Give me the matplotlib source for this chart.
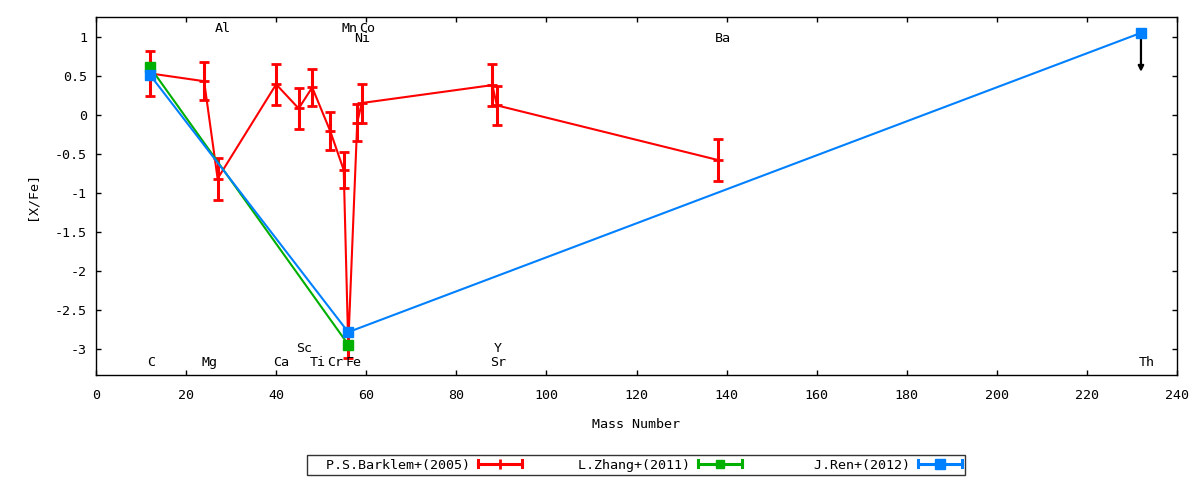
import matplotlib
matplotlib.use('Agg')
import matplotlib.pyplot as plt
import numpy as np
from matplotlib.lines import Line2D
from matplotlib.legend_handler import HandlerBase
from matplotlib.ticker import FuncFormatter, MultipleLocator

# P.S.Barklem+(2005): mass number, [X/Fe], error
barklem_mass = [12, 24, 27, 40, 45, 48, 52, 55, 56, 58, 59, 88, 89, 138]
barklem_val = [0.53, 0.43, -0.82, 0.39, 0.08, 0.35, -0.21, -0.71, -2.96, -0.10, 0.15, 0.38, 0.12, -0.58]
barklem_err = [0.29, 0.24, 0.27, 0.26, 0.26, 0.24, 0.24, 0.23, 0.16, 0.24, 0.25, 0.27, 0.25, 0.27]

# L.Zhang+(2011)
zhang_mass = [12, 56]
zhang_val = [0.61, -2.95]

# J.Ren+(2012), last point (Th) is an upper limit
ren_mass = [12, 56, 232]
ren_val = [0.51, -2.79, 1.05]

series_names = ['P.S.Barklem+(2005)', 'L.Zhang+(2011)', 'J.Ren+(2012)']

# element labels: (name, mass number, row value)
label_names = ['Al', 'Mn', 'Co', 'Ni', 'Ba',
               'C', 'Mg', 'Ca', 'Ti', 'Cr', 'Fe', 'Sr', 'Th',
               'Sc', 'Y']
label_mass = [27, 55, 59, 58, 138,
              12, 24, 40, 48, 52, 56, 88, 232,
              45, 89]
label_row = [1.11, 1.11, 1.11, 0.98, 0.98,
             -3.18, -3.18, -3.18, -3.18, -3.18, -3.18, -3.18, -3.18,
             -3.0, -3.0]

RED = '#ff0000'
GREEN = '#00b000'
BLUE = '#0080ff'


class ErrKey:
    def __init__(self, color, marker, ms, mew=1.0):
        self.color = color
        self.marker = marker
        self.ms = ms
        self.mew = mew


class ErrKeyHandler(HandlerBase):
    # gnuplot style key sample: |--marker--|
    def create_artists(self, legend, orig_handle, xdescent, ydescent,
                       width, height, fontsize, trans):
        y = height / 2 - ydescent
        x0, x1 = -xdescent, width - xdescent
        h = 0.38 * height
        c = orig_handle.color
        line = Line2D([x0, x1], [y, y], color=c, lw=2.2, transform=trans)
        caps = Line2D([x0, x0, np.nan, x1, x1], [y - h, y + h, np.nan, y - h, y + h],
                      color=c, lw=2.2, transform=trans)
        mark = Line2D([(x0 + x1) / 2], [y], marker=orig_handle.marker, ms=orig_handle.ms,
                      mew=orig_handle.mew, color=c, ls='none', transform=trans)
        return [line, caps, mark]


plt.rcParams['font.family'] = ['DejaVu Sans Mono']
plt.rcParams['font.size'] = 9.6
plt.rcParams['axes.unicode_minus'] = False

fig = plt.figure(figsize=(12, 4.8), dpi=100)
ax = fig.add_axes([96 / 1200, 1 - 375 / 480, (1177 - 96) / 1200, (375 - 17.3) / 480])

ax.errorbar(barklem_mass, barklem_val, yerr=barklem_err, color=RED, lw=1.5,
            elinewidth=2.2, capsize=3.3, capthick=2.2, marker='+', ms=7, mew=2.0,
            zorder=2)
ax.plot(zhang_mass, zhang_val, color=GREEN, lw=1.5, marker='s', ms=6.5, zorder=3)
ax.plot(ren_mass, ren_val, color=BLUE, lw=1.5, marker='s', ms=7, zorder=4)

# upper limit arrow on Th
ax.annotate('', xy=(ren_mass[-1], ren_val[-1] - 0.5), xytext=(ren_mass[-1], ren_val[-1]),
            arrowprops=dict(arrowstyle='-|>', color='black', lw=1.6,
                            mutation_scale=8, shrinkA=0, shrinkB=0), zorder=3.5)

for name, m, row in zip(label_names, label_mass, label_row):
    ax.text(m - 0.6, row, name, ha='left', va='center', color='black')

ax.set_xlim(0, 240)
ax.set_ylim(-3.34, 1.25)
ax.xaxis.set_major_locator(MultipleLocator(20))
ax.yaxis.set_major_locator(MultipleLocator(0.5))
ax.yaxis.set_major_formatter(FuncFormatter(lambda v, p: '%g' % v))
ax.xaxis.set_major_formatter(FuncFormatter(lambda v, p: '%g' % v))
ax.tick_params(direction='in', length=3.5, width=1, top=True, right=True)
ax.tick_params(axis='x', pad=10)
ax.tick_params(axis='y', pad=6.5)
for sp in ax.spines.values():
    sp.set_linewidth(1.0)

ax.set_xlabel('Mass Number', va='center')
ax.xaxis.set_label_coords(0.5, (375 - 425) / 358)
ax.set_ylabel('[X/Fe]', va='center')
ax.yaxis.set_label_coords((32 - 96) / 1081, 0.5)

handles = [ErrKey(RED, '|', 7, 2.0), ErrKey(GREEN, 's', 6), ErrKey(BLUE, 's', 6.5)]
labels = [n.rjust(20) for n in series_names]
leg = fig.legend(handles, labels, handler_map={ErrKey: ErrKeyHandler()},
                 loc='center', bbox_to_anchor=(636 / 1200, 1 - 465 / 480), ncol=3,
                 markerfirst=False, handlelength=3.3, handletextpad=0.6,
                 columnspacing=0.6, borderpad=0.25, fancybox=False, frameon=True)
leg.get_frame().set_edgecolor('black')
leg.get_frame().set_linewidth(1.0)

fig.savefig('out.png', dpi=100)
